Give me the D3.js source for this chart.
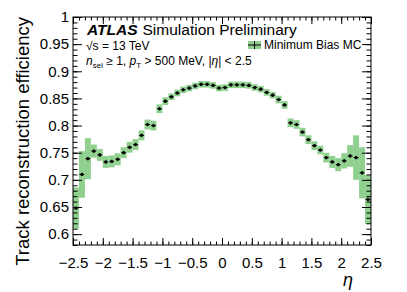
<!DOCTYPE html>
<html><head><meta charset="utf-8">
<script src="https://cdn.jsdelivr.net/npm/d3@7"></script>
<style>
body{margin:0;background:#fff;}
svg{display:block;font-family:"Liberation Sans",Arial,Helvetica,sans-serif;}
</style></head>
<body>
<svg id="c" width="407" height="292"></svg>
<script>
// ---- data ----
const binEdgesLow = -2.5, binWidth = 0.1;
const etaCenters = d3.range(50).map(i => +(binEdgesLow + binWidth*(i+0.5)).toFixed(2));
const efficiency = [
 0.648,0.710,0.739,0.753,0.746,0.733,0.734,0.738,0.750,0.760,
 0.765,0.782,0.802,0.800,0.831,0.845,0.853,0.860,0.866,0.869,
 0.873,0.876,0.876,0.874,0.869,0.870,0.875,0.875,0.875,0.874,
 0.870,0.867,0.861,0.856,0.848,0.838,0.805,0.802,0.788,0.774,
 0.763,0.755,0.741,0.733,0.728,0.735,0.744,0.741,0.713,0.664];
const systErr = [
 0.038,0.043,0.038,0.012,0.011,0.011,0.011,0.011,0.010,0.010,
 0.010,0.009,0.009,0.009,0.008,0.007,0.006,0.006,0.006,0.006,
 0.006,0.006,0.006,0.006,0.006,0.006,0.006,0.006,0.006,0.006,
 0.006,0.006,0.006,0.006,0.007,0.007,0.008,0.008,0.008,0.008,
 0.008,0.008,0.009,0.011,0.012,0.014,0.020,0.041,0.047,0.045];
const statErr = efficiency.map(()=>0.003);
const xTickLabels = ["\u22122.5","\u22122","\u22121.5","\u22121","\u22120.5","0","0.5","1","1.5","2","2.5"];
const xTickValues = [-2.5,-2,-1.5,-1,-0.5,0,0.5,1,1.5,2,2.5];
const yTickValues = [0.6,0.65,0.7,0.75,0.8,0.85,0.9,0.95,1];
const yTickLabels = ["0.6","0.65","0.7","0.75","0.8","0.85","0.9","0.95","1"];

// ---- layout ----
const L=73, R=371, T=17, B=245;
const svg = d3.select("#c");
const x = d3.scaleLinear().domain([-2.5,2.5]).range([L,R]);
const y = d3.scaleLinear().domain([0.58,1.0]).range([B,T]);
const green = "#8fd08f";

// band
svg.append("g").selectAll("rect").data(etaCenters).join("rect")
  .attr("x",(d)=>x(d-binWidth/2))
  .attr("width",(d)=>x(d+binWidth/2)-x(d-binWidth/2))
  .attr("y",(d,i)=>y(efficiency[i]+systErr[i]))
  .attr("height",(d,i)=>y(efficiency[i]-systErr[i])-y(efficiency[i]+systErr[i]))
  .attr("fill",green);

// points
const pts = svg.append("g");
etaCenters.forEach((c,i)=>{
  const yy = y(efficiency[i]);
  pts.append("line").attr("x1",x(c-binWidth/2)+0.5).attr("x2",x(c+binWidth/2)-0.5)
    .attr("y1",yy).attr("y2",yy).attr("stroke","#000").attr("stroke-width",1);
  pts.append("line").attr("x1",x(c)).attr("x2",x(c))
    .attr("y1",y(efficiency[i]+statErr[i])).attr("y2",y(efficiency[i]-statErr[i]))
    .attr("stroke","#000").attr("stroke-width",1);
  pts.append("circle").attr("cx",x(c)).attr("cy",yy).attr("r",1.6).attr("fill","#000");
});

// axes
const xMinor = d3.range(-2.5,2.5001,0.1).map(v=>+v.toFixed(2));
const yMinor = d3.range(0.58,1.0001,0.01).map(v=>+v.toFixed(2));
function styleAxis(g){ g.selectAll("path").remove(); g.selectAll("line").attr("stroke","#000"); g.selectAll("text").attr("fill","#000"); }

const bx = svg.append("g").attr("transform",`translate(0,${B})`)
  .call(d3.axisBottom(x).tickValues(xTickValues).tickSize(-7).tickPadding(12)
     .tickFormat((d,i)=>xTickLabels[i]));
bx.call(styleAxis); bx.selectAll("text").attr("font-size",15);
svg.append("g").attr("transform",`translate(0,${B})`)
  .call(d3.axisBottom(x).tickValues(xMinor).tickSize(-3.5).tickFormat("")).call(styleAxis);
svg.append("g").attr("transform",`translate(0,${T})`)
  .call(d3.axisTop(x).tickValues(xTickValues).tickSize(-7).tickFormat("")).call(styleAxis);
svg.append("g").attr("transform",`translate(0,${T})`)
  .call(d3.axisTop(x).tickValues(xMinor).tickSize(-3.5).tickFormat("")).call(styleAxis);

const ly = svg.append("g").attr("transform",`translate(${L},0)`)
  .call(d3.axisLeft(y).tickValues(yTickValues).tickSize(-9).tickPadding(4)
     .tickFormat((d,i)=>yTickLabels[i]));
ly.call(styleAxis); ly.selectAll("text").attr("font-size",15);
svg.append("g").attr("transform",`translate(${L},0)`)
  .call(d3.axisLeft(y).tickValues(yMinor).tickSize(-4.5).tickFormat("")).call(styleAxis);
svg.append("g").attr("transform",`translate(${R},0)`)
  .call(d3.axisRight(y).tickValues(yTickValues).tickSize(-9).tickFormat("")).call(styleAxis);
svg.append("g").attr("transform",`translate(${R},0)`)
  .call(d3.axisRight(y).tickValues(yMinor).tickSize(-4.5).tickFormat("")).call(styleAxis);

// frame
svg.append("rect").attr("x",L).attr("y",T).attr("width",R-L).attr("height",B-T)
  .attr("fill","none").attr("stroke","#000").attr("stroke-width",1);

// axis titles
svg.append("text").attr("transform",`translate(29,${T}) rotate(-90)`)
  .attr("text-anchor","end").attr("font-size",18.5).text("Track reconstruction efficiency");
svg.append("text").attr("x",348).attr("y",286).attr("text-anchor","middle")
  .attr("font-size",18).attr("font-style","italic").text("\u03b7");

// labels
const t1 = svg.append("text").attr("x",87).attr("y",35).attr("font-size",15.5);
t1.append("tspan").attr("font-weight","bold").attr("font-style","italic").text("ATLAS");
t1.append("tspan").attr("dx",5).text("Simulation Preliminary");
svg.append("text").attr("x",86).attr("y",49.5).attr("font-size",12).text("\u221as = 13 TeV");
const t3 = svg.append("text").attr("x",86).attr("y",64.5).attr("font-size",12);
t3.append("tspan").attr("font-style","italic").text("n");
t3.append("tspan").attr("font-size",8).attr("dy",3).text("sel");
t3.append("tspan").attr("dy",-3).text(" \u2265 1, ");
t3.append("tspan").attr("font-style","italic").text("p");
t3.append("tspan").attr("font-size",8).attr("dy",3).text("T");
t3.append("tspan").attr("dy",-3).text(" > 500 MeV, |");
t3.append("tspan").attr("font-style","italic").text("\u03b7");
t3.append("tspan").text("| < 2.5");

// legend
const lg = svg.append("g");
lg.append("rect").attr("x",248).attr("y",41).attr("width",13).attr("height",8).attr("fill",green);
lg.append("line").attr("x1",248).attr("x2",261).attr("y1",45).attr("y2",45).attr("stroke","#000");
lg.append("line").attr("x1",254.5).attr("x2",254.5).attr("y1",41).attr("y2",49).attr("stroke","#000");
lg.append("text").attr("x",264).attr("y",49).attr("font-size",12).text("Minimum Bias MC");
</script>
</body></html>
